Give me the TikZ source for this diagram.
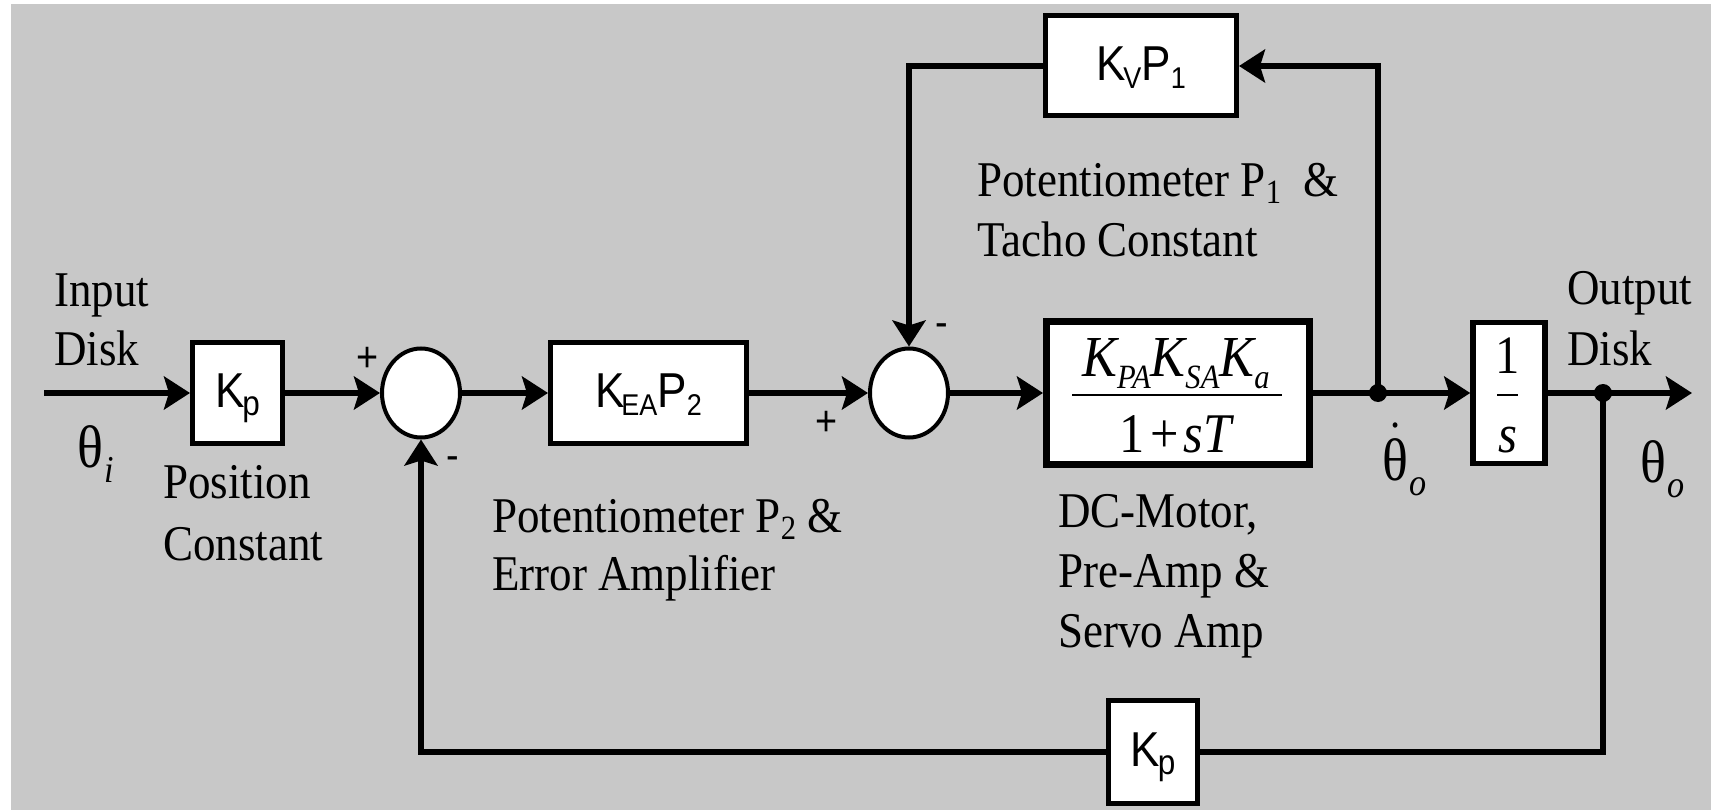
\documentclass[tikz,border=0pt]{standalone}
\usepackage{fontspec}
\setmainfont{Liberation Serif}[FakeStretch=0.9]
\setsansfont{Liberation Sans}[FakeStretch=0.9]
\usetikzlibrary{arrows.meta,shapes.geometric}
\definecolor{bg}{RGB}{200,200,200}
\newcommand\tsub[1]{\raisebox{-7pt}{\fontsize{34}{34}\selectfont #1}}
\newcommand\ssub[1]{\raisebox{-8pt}{\fontsize{30}{30}\selectfont #1}}
\newcommand\psub[1]{\raisebox{-8pt}{\fontsize{35}{35}\selectfont #1}}
\newcommand\msub[1]{\raisebox{-12pt}{\fontsize{34}{34}\selectfont\itshape #1}}
\newcommand\gsub[1]{\raisebox{-15pt}{\fontsize{38}{38}\selectfont\itshape #1}}
\tikzset{
  >={Stealth[length=26pt,width=33pt,inset=5pt]},
  conn/.style={line width=5.5pt},
  blk/.style={draw,fill=white,line width=5pt,inner sep=0pt,
    font=\sffamily\fontsize{49}{49}\selectfont,text height=35pt,text depth=6pt},
  sumnode/.style={ellipse,draw,fill=white,line width=4pt,minimum width=78pt,
    minimum height=89pt,inner sep=0pt},
  jdot/.style={circle,fill=black,minimum size=18pt,inner sep=0pt},
  lbl/.style={anchor=base west,inner sep=0pt,font=\fontsize{50}{59}\selectfont},
  sgn/.style={inner sep=0pt,font=\sffamily\fontsize{42}{42}\selectfont},
  greek/.style={anchor=base west,inner sep=0pt,font=\fontsize{60}{60}\selectfont},
  mtxt/.style={anchor=base,inner sep=0pt,font=\fontsize{54}{54}\selectfont},
}
\begin{document}
\begin{tikzpicture}[x=1pt,y=-1pt]
\useasboundingbox (0,0) rectangle (1711,810);
\fill[white] (0,0) rectangle (1711,810);
\fill[bg] (11,4) rectangle (1711,810);

% blocks
\node[blk,minimum width=90pt,minimum height=100pt] (kp1) at (237.5,393) {K\kern-2pt\psub{p}};
\node[sumnode] (s1) at (421,393) {};
\node[blk,minimum width=196pt,minimum height=100pt] (kea) at (648.5,393) {K\kern-3pt\ssub{EA}P\ssub{2}};
\node[sumnode] (s2) at (909,393) {};
\node[blk,line width=7pt,minimum width=263pt,minimum height=143pt] (big) at (1178,393) {};
\node[blk,line width=5.5pt,minimum width=72pt,minimum height=141pt] (inv) at (1509,393) {};
\node[blk,minimum width=191pt,minimum height=100pt] (kvp) at (1141,66) {K\kern-2pt\ssub{V}P\ssub{1}};
\node[blk,minimum width=89pt,minimum height=103pt] (kp2) at (1153,752) {K\kern-2pt\psub{p}};

% fraction contents
\node[mtxt,font=\fontsize{58}{58}\selectfont\itshape] (num) at (1176,377) {K\msub{PA}K\msub{SA}K\msub{a}};
\draw[line width=2.5pt] (1072,395) -- (1282,395);
\node[mtxt,font=\fontsize{56}{56}\selectfont] (den) at (1177,452) {1\kern5pt+\kern5pt\textit{sT}};
\node[mtxt,font=\fontsize{54}{54}\selectfont] (one) at (1508,373) {1};
\draw[line width=2pt] (1497,395) -- (1518,395);
\node[mtxt,font=\fontsize{54}{54}\selectfont\itshape] (ess) at (1508,452) {s};

% connectors
\coordinate (in) at (44,393);
\coordinate (out) at (1692,393);
\coordinate (j1) at (1378,393);
\coordinate (j2) at (1603,393);
\draw[conn,->] (in) -- (kp1.west);
\draw[conn,->] (kp1.east) -- (s1.west);
\draw[conn,->] (s1.east) -- (kea.west);
\draw[conn,->] (kea.east) -- (s2.west);
\draw[conn,->] (s2.east) -- (big.west);
\draw[conn] (big.east) -- (j1);
\draw[conn,->] (j1) -- (inv.west);
\draw[conn] (inv.east) -- (j2);
\draw[conn,->] (j2) -- (out);
\draw[conn,->] (j1) |- (kvp.east);
\draw[conn,->] (kvp.west) -| (s2.north);
\draw[conn] (j2) |- (kp2.east);
\draw[conn,->] (kp2.west) -| (s1.south);
\node[jdot] (d1) at (j1) {};
\node[jdot] (d2) at (j2) {};

% signs
\node[sgn] (p1) at (368,359) {+};
\node[sgn] (m1) at (453,463) {-};
\node[sgn] (p2) at (827,423) {+};
\node[sgn] (m2) at (942,330) {-};

% labels
\node[lbl] (inA) at (54,307) {Input};
\node[lbl] (inB) at (54,365) {Disk};
\node[greek] (thi) at (77,467) {θ\kern1pt\gsub{i}};
\node[lbl] (posA) at (163,498) {Position};
\node[lbl] (posB) at (163,560) {Constant};
\node[lbl] (p2A) at (492,532) {Potentiometer P\tsub{2} \&};
\node[lbl] (p2B) at (492,590) {Error Amplifier};
\node[lbl] (p1A) at (977,197) {Potentiometer P\tsub{1}\ \ \&};
\node[lbl] (p1B) at (977,257) {Tacho Constant};
\node[lbl] (dcA) at (1058,527) {DC-Motor,};
\node[lbl] (dcB) at (1058,587) {Pre-Amp \&};
\node[lbl] (dcC) at (1058,647) {Servo Amp};
\node[greek] (thd) at (1382,480) {\ooalign{θ\cr\hidewidth\raisebox{53pt}{\fontsize{45}{45}\selectfont .}\hidewidth\cr}\kern1pt\gsub{o}};
\node[lbl] (outA) at (1567,305) {Output};
\node[lbl] (outB) at (1567,365) {Disk};
\node[greek] (tho) at (1640,482) {θ\kern1pt\gsub{o}};
\end{tikzpicture}
\end{document}
